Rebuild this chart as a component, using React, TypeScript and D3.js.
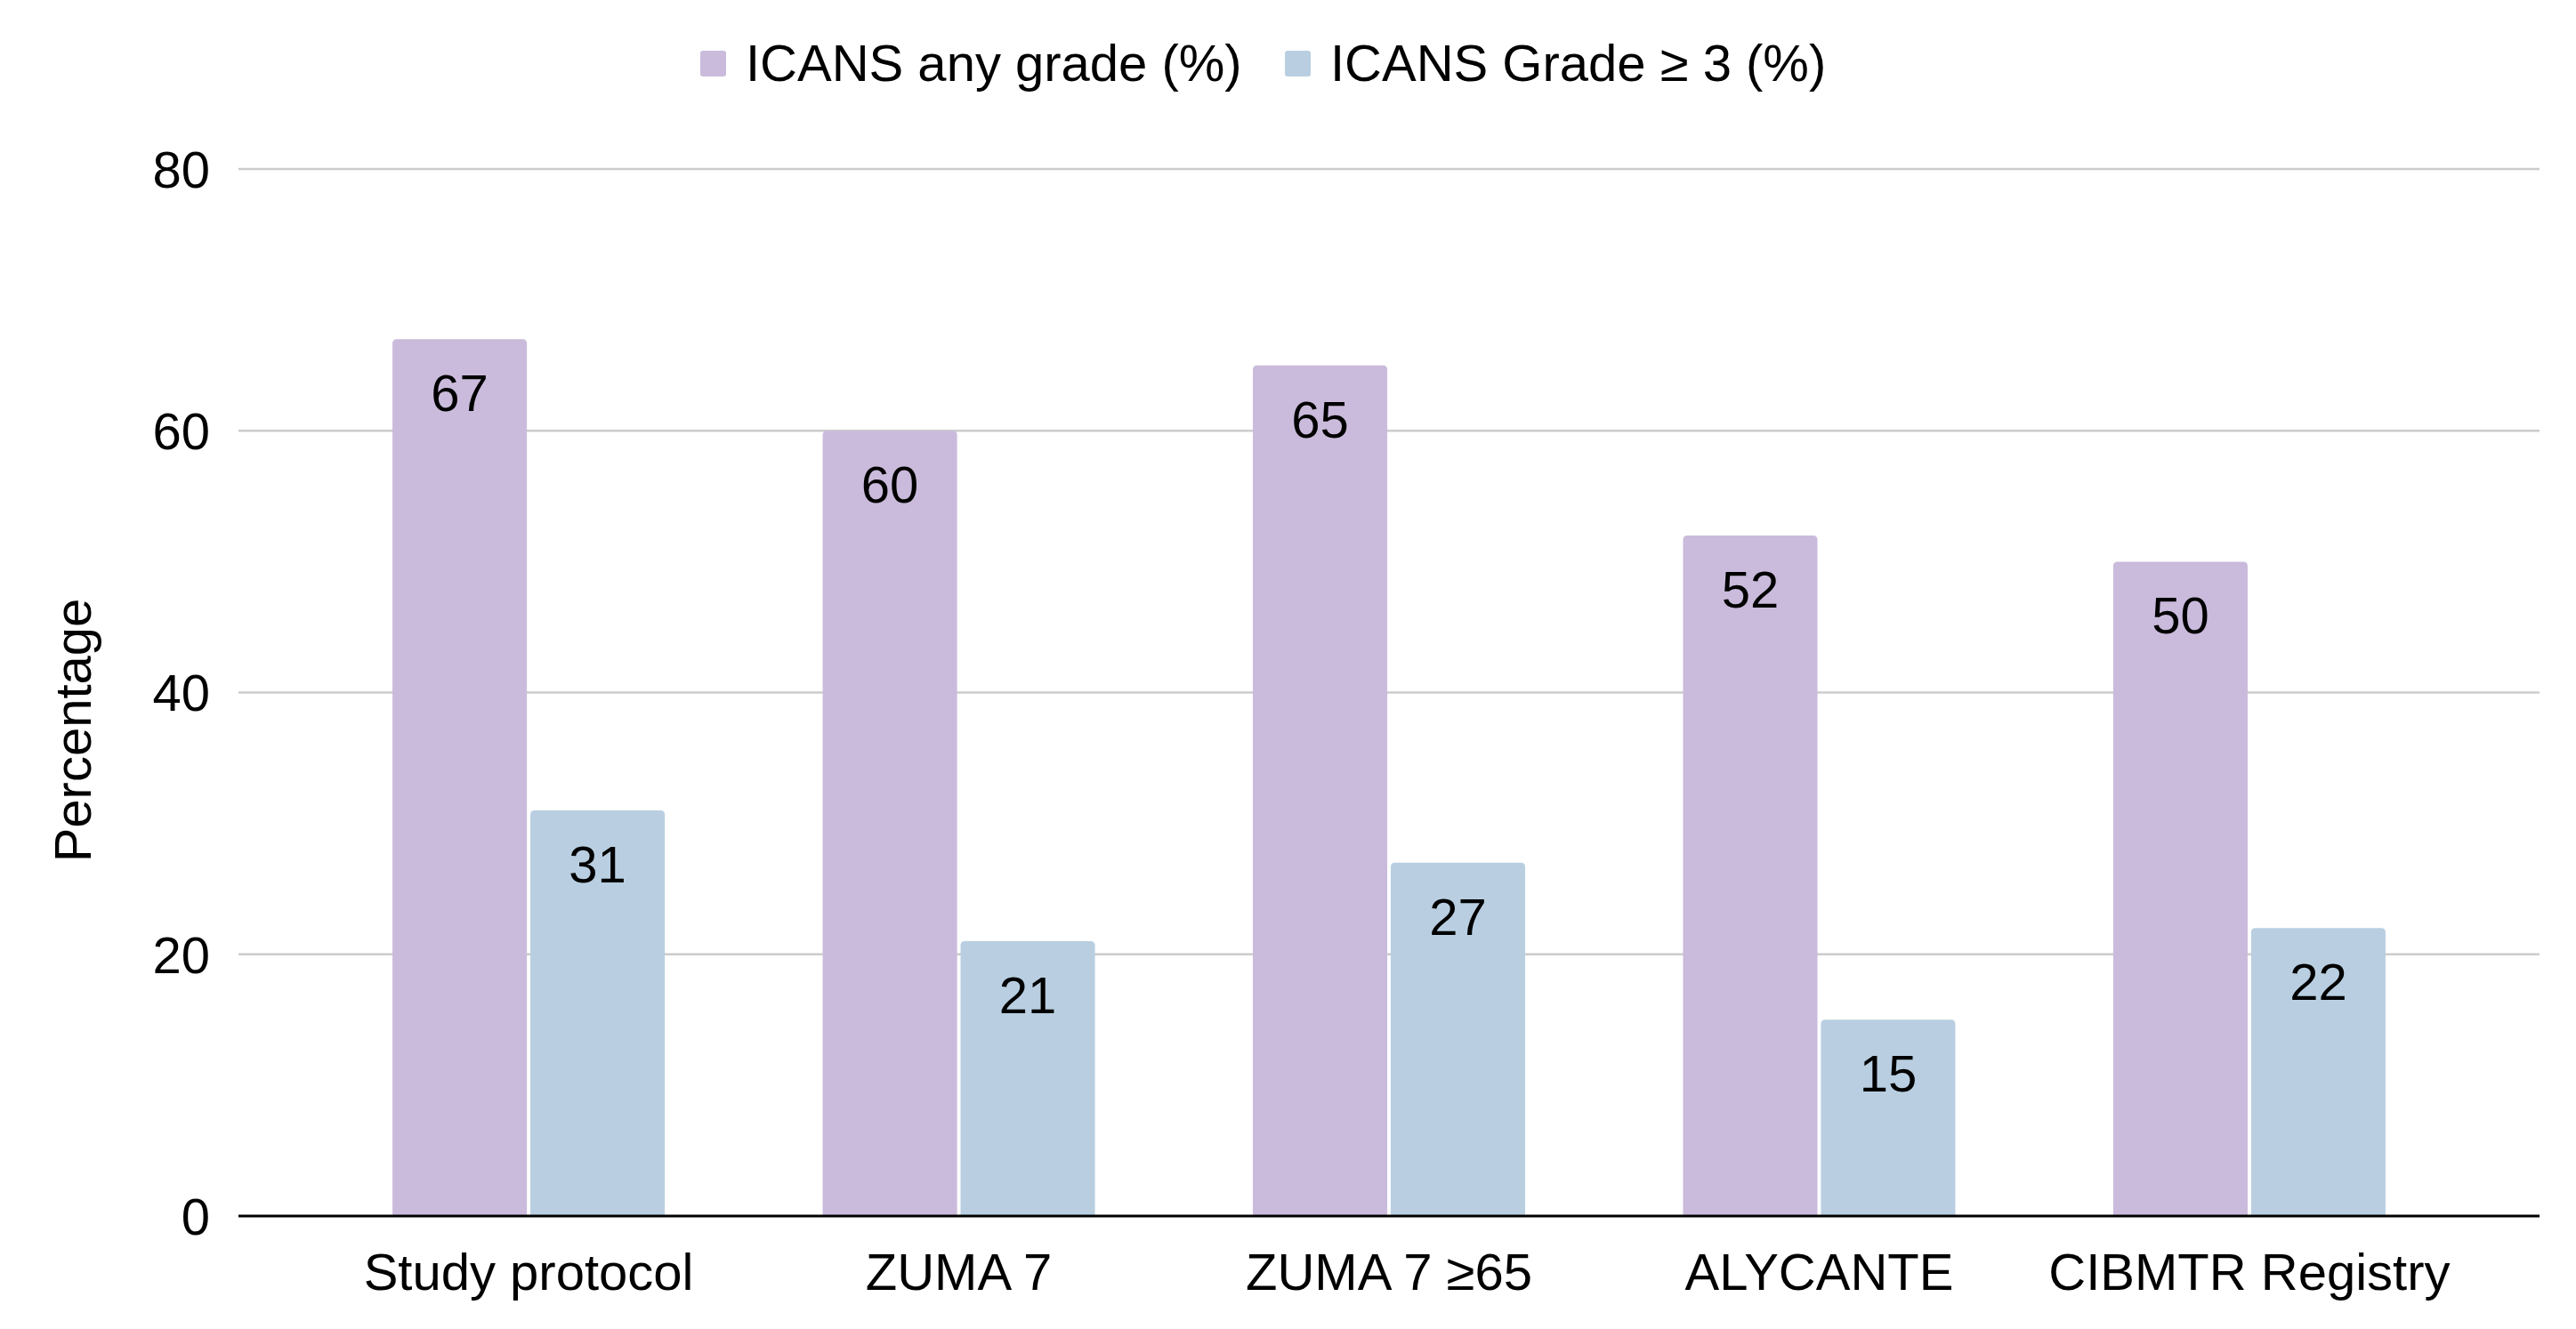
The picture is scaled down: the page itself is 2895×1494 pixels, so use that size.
import * as d3 from "d3";
import { useEffect, useRef } from "react";

const categories = ["Study protocol", "ZUMA 7", "ZUMA 7 ≥65", "ALYCANTE", "CIBMTR Registry"];
const seriesNames = ["ICANS any grade (%)", "ICANS Grade ≥ 3 (%)"];
const anyGrade = [67, 60, 65, 52, 50];
const grade3 = [31, 21, 27, 15, 22];
const yTicks = [0, 20, 40, 60, 80];
const colors = ["#cabbdc", "#b9cfe1"];

const W = 2895;
const H = 1494;
const FONT = "'Liberation Sans', Arial, sans-serif";

// top-rounded bar
function barPath(x: number, y: number, w: number, h: number, r: number) {
	const rr = Math.min(r, h / 2, w / 2);
	return `M${x},${y + h}V${y + rr}Q${x},${y} ${x + rr},${y}H${x + w - rr}Q${x + w},${y} ${x + w},${y + rr}V${y + h}Z`;
}

export default function App() {
	const ref = useRef<SVGSVGElement | null>(null);

	useEffect(() => {
		document.body.style.margin = "0";
		if (!ref.current) return;
		const svg = d3.select(ref.current);
		svg.selectAll("*").remove();

		const left = 268;
		const right = 2854;
		const y = d3.scaleLinear().domain([0, 80]).range([1367, 190]);
		const x = d3
			.scaleBand<string>()
			.domain(categories)
			.range([left, right])
			.paddingInner(0.367)
			.paddingOuter(0.358);
		const xs = d3
			.scaleBand<number>()
			.domain([0, 1])
			.range([0, x.bandwidth()])
			.paddingInner(0.025);

		// gridlines
		svg
			.append("g")
			.selectAll("line")
			.data(yTicks.filter((t) => t > 0))
			.enter()
			.append("line")
			.attr("x1", left)
			.attr("x2", right)
			.attr("y1", (d) => y(d))
			.attr("y2", (d) => y(d))
			.attr("stroke", "#cccccc")
			.attr("stroke-width", 2.5);

		// y tick labels
		svg
			.append("g")
			.selectAll("text")
			.data(yTicks)
			.enter()
			.append("text")
			.attr("x", 236)
			.attr("y", (d) => y(d))
			.attr("dy", "0.36em")
			.attr("text-anchor", "end")
			.style("font-family", FONT)
			.style("font-size", "58px")
			.style("fill", "#000")
			.text((d) => d);

		// y title
		svg
			.append("text")
			.attr("transform", `translate(102,821) rotate(-90)`)
			.attr("text-anchor", "middle")
			.style("font-family", FONT)
			.style("font-size", "58px")
			.style("fill", "#000")
			.text("Percentage");

		const series = [anyGrade, grade3];
		series.forEach((vals, si) => {
			const g = svg.append("g");
			g.selectAll("path")
				.data(vals)
				.enter()
				.append("path")
				.attr("d", (d, i) => {
					const bx = (x(categories[i]) as number) + (xs(si) as number);
					return barPath(bx, y(d), xs.bandwidth(), y(0) - y(d), 5);
				})
				.attr("fill", colors[si]);

			g.selectAll("text")
				.data(vals)
				.enter()
				.append("text")
				.attr("x", (_d, i) => (x(categories[i]) as number) + (xs(si) as number) + xs.bandwidth() / 2)
				.attr("y", (d) => y(d) + 81)
				.attr("text-anchor", "middle")
				.style("font-family", FONT)
				.style("font-size", "58px")
				.style("fill", "#000")
				.text((d) => d);
		});

		// baseline
		svg
			.append("line")
			.attr("x1", left)
			.attr("x2", right)
			.attr("y1", y(0))
			.attr("y2", y(0))
			.attr("stroke", "#000")
			.attr("stroke-width", 3);

		// x labels
		svg
			.append("g")
			.selectAll("text")
			.data(categories)
			.enter()
			.append("text")
			.attr("x", (d) => (x(d) as number) + x.bandwidth() / 2)
			.attr("y", 1450)
			.attr("text-anchor", "middle")
			.style("font-family", FONT)
			.style("font-size", "58px")
			.style("fill", "#000")
			.text((d) => d);

		// legend
		const legendX = [787, 1444];
		const legend = svg.append("g");
		seriesNames.forEach((name, i) => {
			legend
				.append("rect")
				.attr("x", legendX[i])
				.attr("y", 57)
				.attr("width", 29)
				.attr("height", 29)
				.attr("rx", 3)
				.attr("fill", colors[i]);
			legend
				.append("text")
				.attr("x", legendX[i] + 51)
				.attr("y", 91)
				.style("font-family", FONT)
				.style("font-size", "58px")
				.style("fill", "#000")
				.text(name);
		});
	}, []);

	return <svg ref={ref} width={W} height={H} style={{ display: "block", background: "#fff" }} />;
}
